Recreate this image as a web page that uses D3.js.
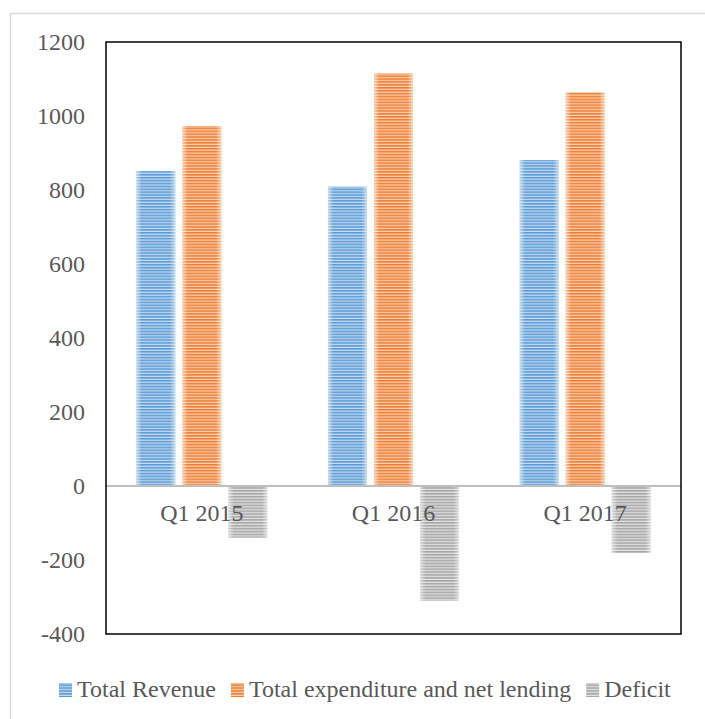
<!DOCTYPE html>
<html>
<head>
<meta charset="utf-8">
<script src="https://cdn.jsdelivr.net/npm/d3@7"></script>
<style>
  html, body { margin: 0; padding: 0; background: #fff; }
  svg { display: block; }
  text { font-family: "Liberation Serif", "Times New Roman", serif; fill: #595959; }
</style>
</head>
<body>
<svg id="chart" width="705" height="719"></svg>
<script>
// Quarterly fiscal figures
const categories = ["Q1 2015", "Q1 2016", "Q1 2017"];
const seriesNames = ["Total Revenue", "Total expenditure and net lending", "Deficit"];
const revenue = [851, 809, 881];
const expenditure = [973, 1115, 1064];
const deficit = [-140, -310, -181];
const yTicks = [-400, -200, 0, 200, 400, 600, 800, 1000, 1200];

const seriesValues = [revenue, expenditure, deficit];
const colors = [
  { dark: "#5b9bd5", light: "#c3daf0" },
  { dark: "#ed7d31", light: "#fad0b3" },
  { dark: "#a5a5a5", light: "#e2e2e2" }
];
const FONT = "'Liberation Serif', 'Times New Roman', serif";
const FS = 24;

const svg = d3.select("#chart");
const defs = svg.append("defs");

// Narrow horizontal stripe fills, one per series
colors.forEach((c, i) => {
  const p = defs.append("pattern")
    .attr("id", "stripe" + i)
    .attr("patternUnits", "userSpaceOnUse")
    .attr("width", 8).attr("height", 2.9);
  p.append("rect").attr("width", 8).attr("height", 2.9).attr("fill", c.light);
  p.append("rect").attr("width", 8).attr("height", 1.6).attr("fill", c.dark);
});
// Soft light edges on each bar
const edge = defs.append("linearGradient").attr("id", "edgeGlow")
  .attr("x1", "0").attr("x2", "1").attr("y1", "0").attr("y2", "0");
[[0, 0.55], [0.14, 0], [0.86, 0], [1, 0.55]].forEach(([o, a]) =>
  edge.append("stop").attr("offset", o).attr("stop-color", "#fff").attr("stop-opacity", a));

// Outer chart frame
svg.append("rect")
  .attr("x", 10.5).attr("y", 13.5).attr("width", 720).attr("height", 720)
  .attr("fill", "none").attr("stroke", "#d9d9d9").attr("stroke-width", 1.5);

const plot = { left: 106, top: 42, right: 681, bottom: 634 };

const y = d3.scaleLinear().domain([-400, 1200]).range([plot.bottom, plot.top]);
const x0 = d3.scaleBand().domain(categories).range([plot.left, plot.right]).padding(0);
const groupWidth = 131;
const x1 = d3.scaleBand().domain(d3.range(seriesNames.length))
  .range([0, groupWidth]).paddingInner(7 / 46).paddingOuter(0);
const groupOffset = (x0.bandwidth() - groupWidth) / 2;

// Y axis labels
const yAxis = d3.axisLeft(y).tickValues(yTicks).tickSize(0).tickPadding(0)
  .tickFormat(d => String(d));
const yg = svg.append("g").attr("transform", `translate(85,0)`).call(yAxis)
  .attr("font-family", FONT).attr("font-size", FS);
yg.select(".domain").remove();
yg.selectAll("text").attr("fill", "#595959").attr("dy", "0.33em");

// Bars
const barData = [];
categories.forEach((cat, ci) => {
  seriesValues.forEach((vals, si) => barData.push({ cat, si, v: vals[ci] }));
});
const bars = svg.append("g");
bars.selectAll("rect.bar").data(barData).join("rect")
  .attr("class", "bar")
  .attr("x", d => x0(d.cat) + groupOffset + x1(d.si))
  .attr("y", d => y(Math.max(0, d.v)))
  .attr("width", x1.bandwidth())
  .attr("height", d => Math.abs(y(d.v) - y(0)))
  .attr("fill", d => `url(#stripe${d.si})`);
bars.selectAll("rect.glow").data(barData).join("rect")
  .attr("class", "glow")
  .attr("x", d => x0(d.cat) + groupOffset + x1(d.si))
  .attr("y", d => y(Math.max(0, d.v)))
  .attr("width", x1.bandwidth())
  .attr("height", d => Math.abs(y(d.v) - y(0)))
  .attr("fill", "url(#edgeGlow)");

// Zero baseline
svg.append("line")
  .attr("x1", plot.left).attr("x2", plot.right)
  .attr("y1", y(0)).attr("y2", y(0))
  .attr("stroke", "#bfbfbf").attr("stroke-width", 2.2);

// Category labels, drawn over the bars
const xAxis = d3.axisBottom(x0).tickSize(0).tickPadding(0);
const xg = svg.append("g").attr("transform", `translate(0,${y(0)})`).call(xAxis)
  .attr("font-family", FONT).attr("font-size", FS);
xg.select(".domain").remove();
xg.selectAll("text").attr("fill", "#595959").attr("y", 35).attr("dy", 0);

// Plot frame
svg.append("rect")
  .attr("x", plot.left).attr("y", plot.top)
  .attr("width", plot.right - plot.left).attr("height", plot.bottom - plot.top)
  .attr("fill", "none").attr("stroke", "#000").attr("stroke-width", 1.5);

// Legend
const legend = svg.append("g").attr("font-family", FONT).attr("font-size", FS);
let lx = 59;
seriesNames.forEach((name, i) => {
  legend.append("rect")
    .attr("x", lx).attr("y", 683).attr("width", 13).attr("height", 14)
    .attr("fill", `url(#stripe${i})`);
  const t = legend.append("text")
    .attr("x", lx + 18).attr("y", 697)
    .text(name);
  const w = t.node().getComputedTextLength();
  lx = lx + 18 + w + 15;
});
</script>
</body>
</html>
